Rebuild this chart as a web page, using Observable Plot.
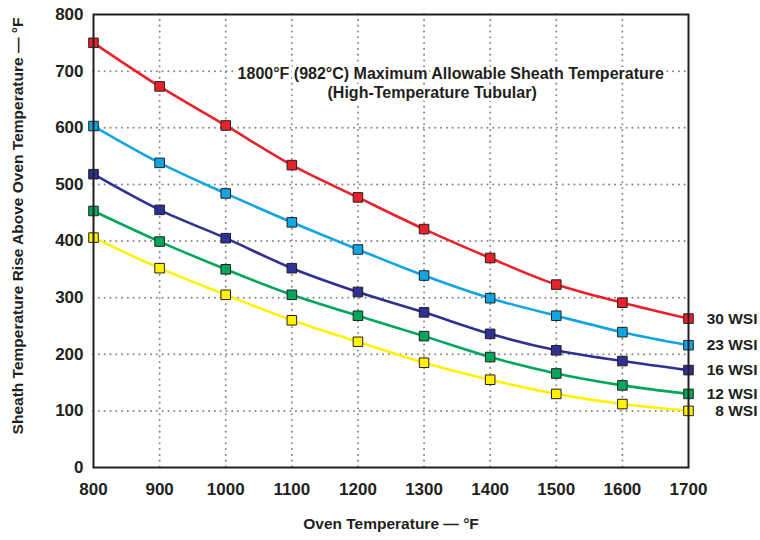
<!DOCTYPE html>
<html><head><meta charset="utf-8">
<script src="https://cdn.jsdelivr.net/npm/d3@7"></script>
<script src="https://cdn.jsdelivr.net/npm/@observablehq/plot@0.6"></script>
<style>
body{margin:0;background:#fff;}
#chart{width:760px;height:540px;}
</style>
</head><body><div id="chart"></div>
<script>
const ovenTemps = [800, 900, 1000, 1100, 1200, 1300, 1400, 1500, 1600, 1700];
const seriesNames = ["30 WSI", "23 WSI", "16 WSI", "12 WSI", "8 WSI"];
const wsi30 = [750, 673, 604, 534, 477, 421, 370, 323, 291, 263];
const wsi23 = [603, 538, 484, 433, 385, 339, 299, 268, 239, 216];
const wsi16 = [518, 455, 405, 352, 310, 274, 236, 207, 188, 172];
const wsi12 = [453, 399, 350, 305, 268, 232, 195, 166, 145, 130];
const wsi8  = [406, 352, 305, 260, 222, 185, 155, 130, 112, 100];
const seriesColors = ["#e8212b", "#11a6e2", "#2e3192", "#00a65a", "#fff200"];
const xTicks = [800, 900, 1000, 1100, 1200, 1300, 1400, 1500, 1600, 1700];
const yTicks = [0, 100, 200, 300, 400, 500, 600, 700, 800];
const titleLines = ["1800°F (982°C) Maximum Allowable Sheath Temperature", "(High-Temperature Tubular)"];
const titleX = [1018, 1154];
const titleY = [696, 661];

const allSeries = [wsi30, wsi23, wsi16, wsi12, wsi8];
const data = [];
allSeries.forEach((vals, s) => vals.forEach((v, i) => data.push({series: seriesNames[s], x: ovenTemps[i], y: v})));
const ends = data.filter(d => d.x === 1700);
const titles = titleLines.map((t, i) => ({t, x: titleX[i], y: titleY[i]}));

const font = "'Liberation Sans', Arial, sans-serif";
const ink = "#231f20";
const plot = Plot.plot({
  width: 760, height: 540,
  marginLeft: 93, marginRight: 72, marginTop: 14, marginBottom: 73,
  style: {fontFamily: font, fontWeight: "bold", color: ink, background: "white"},
  x: {domain: [800, 1700], label: null},
  y: {domain: [0, 800], label: null},
  color: {domain: seriesNames, range: seriesColors},
  marks: [
    Plot.gridX(xTicks.slice(1, -1), {stroke: "#8a8a8a", strokeOpacity: 1, strokeWidth: 2, strokeDasharray: "0.1,5.7", strokeLinecap: "round"}),
    Plot.gridY(yTicks.slice(1, -1), {stroke: "#8a8a8a", strokeOpacity: 1, strokeWidth: 2, strokeDasharray: "0.1,5.7", strokeLinecap: "round"}),
    Plot.axisX({ticks: xTicks, tickFormat: "d", tickSize: 0, tickPadding: 15, fontSize: 17, fontWeight: "bold", label: null}),
    Plot.axisY({ticks: yTicks, tickFormat: "d", tickSize: 0, tickPadding: 10, fontSize: 17, fontWeight: "bold", label: null}),
    Plot.text(titles, {x: "x", y: "y", text: "t", textAnchor: "start", fontSize: 16, fontWeight: "bold", fill: ink, stroke: "white", strokeWidth: 6, paintOrder: "stroke"}),
    Plot.line(data, {x: "x", y: "y", z: "series", stroke: "series", strokeWidth: 2.6, curve: "catmull-rom"}),
    Plot.dot(data, {x: "x", y: "y", fill: "series", symbol: "square", r: 5.4, stroke: ink, strokeWidth: 1}),
    Plot.frame({stroke: ink, strokeWidth: 2}),
    Plot.text(ends, {x: "x", y: "y", text: "series", dx: 69, textAnchor: "end", fontSize: 15.5, fontWeight: "bold", fill: ink}),
    Plot.text(["Oven Temperature — °F"], {frameAnchor: "bottom", textAnchor: "middle", dy: 61, fontSize: 15.5, fontWeight: "bold", fill: ink}),
    Plot.text(["Sheath Temperature Rise Above Oven Temperature — °F"], {frameAnchor: "left", textAnchor: "middle", dx: -75, dy: -15, rotate: -90, fontSize: 15.5, fontWeight: "bold", fill: ink})
  ]
});
document.getElementById("chart").appendChild(plot);
</script>
</body></html>
